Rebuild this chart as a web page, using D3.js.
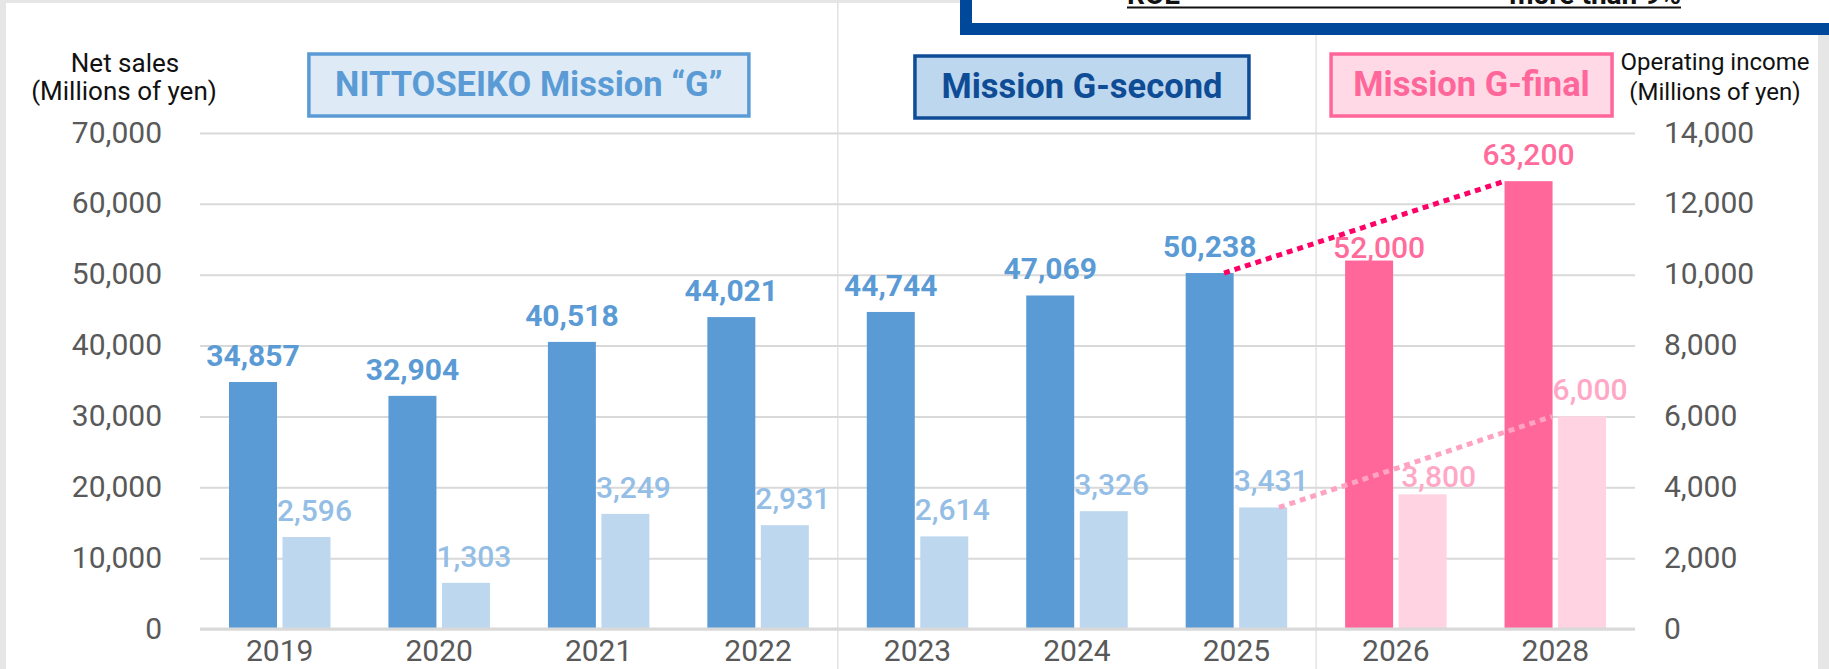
<!DOCTYPE html>
<html>
<head>
<meta charset="utf-8">
<script src="https://cdn.jsdelivr.net/npm/d3@7"></script>
<style>
  html, body { margin: 0; padding: 0; background: #fff; }
  svg { display: block; font-family: Roboto, "Noto Sans", "Liberation Sans", sans-serif; }
</style>
</head>
<body>
<svg id="chart" width="1829" height="669"></svg>
<script>
// ---- data -------------------------------------------------------------
const years = ["2019", "2020", "2021", "2022", "2023", "2024", "2025", "2026", "2028"];
const netSales = [34857, 32904, 40518, 44021, 44744, 47069, 50238, 52000, 63200];
const operatingIncome = [2596, 1303, 3249, 2931, 2614, 3326, 3431, 3800, 6000];
const planYears = ["2026", "2028"];
const salesTicks = [0, 10000, 20000, 30000, 40000, 50000, 60000, 70000];
const incomeTicks = [0, 2000, 4000, 6000, 8000, 10000, 12000, 14000];
const phaseNames = ["NITTOSEIKO Mission “G”", "Mission G-second", "Mission G-final"];
const phaseStart = ["2019", "2023", "2026"];
const phaseEnd = ["2022", "2025", "2028"];
const trendFrom = "2025";
const trendTo = "2028";

// ---- layout ------------------------------------------------------------
const W = 1829, H = 669;
const plotLeft = 200, plotRight = 1635, plotTop = 133, plotBottom = 629;

const svg = d3.select("#chart");

const x = d3.scaleBand().domain(years).range([plotLeft, plotRight]);
const xs = d3.scaleBand().domain(["sales", "income"]).range([29, 130.5]).paddingInner(0.103);
const yL = d3.scaleLinear().domain([0, 70000]).range([plotBottom, plotTop]);
const yR = d3.scaleLinear().domain([0, 14000]).range([plotBottom, plotTop]);
const bw = xs.bandwidth();
const fmt = d3.format(",");

const colors = {
  sales: "#5B9BD5", income: "#BDD7EE",
  salesPlan: "#FF6699", incomePlan: "#FFD3E1",
  salesLabel: "#5B9BD5", incomeLabel: "#94BEE5",
  salesPlanLabel: "#FF6C9C", incomePlanLabel: "#FFA8C6",
  grid: "#D9D9D9", tick: "#595959"
};
const isPlan = y => planYears.includes(y);

// page frame
svg.append("rect").attr("width", W).attr("height", H).attr("fill", "#E7E6E6");
svg.append("rect").attr("x", 6).attr("y", 3).attr("width", 1818 - 6).attr("height", H - 3).attr("fill", "#fff");

// phase dividers
[phaseStart[1], phaseStart[2]].forEach(p => {
  svg.append("line")
    .attr("x1", x(p)).attr("x2", x(p))
    .attr("y1", 0).attr("y2", H)
    .attr("stroke", "#E3E3E3").attr("stroke-width", 1.5);
});

// gridlines
svg.append("g")
  .attr("transform", `translate(${plotLeft},0)`)
  .call(d3.axisLeft(yL).tickValues(salesTicks).tickSize(-(plotRight - plotLeft)).tickFormat(""))
  .call(g => g.select(".domain").remove())
  .call(g => g.selectAll("line").attr("stroke", colors.grid).attr("stroke-width", 2));

// left axis labels
svg.append("g")
  .attr("transform", `translate(${plotLeft},0)`)
  .call(d3.axisLeft(yL).tickValues(salesTicks).tickSize(0).tickPadding(38).tickFormat(fmt))
  .call(g => g.select(".domain").remove())
  .call(g => g.selectAll("text")
    .attr("fill", colors.tick).attr("font-size", 30).attr("font-family", "Roboto, sans-serif").attr("dy", "0.30em"));

// right axis labels
svg.append("g")
  .attr("transform", `translate(${plotRight},0)`)
  .call(d3.axisRight(yR).tickValues(incomeTicks).tickSize(0).tickPadding(29).tickFormat(fmt))
  .call(g => g.select(".domain").remove())
  .call(g => g.selectAll("text")
    .attr("fill", colors.tick).attr("font-size", 30).attr("font-family", "Roboto, sans-serif").attr("dy", "0.30em"));

// year axis
svg.append("g")
  .attr("transform", `translate(0,${plotBottom})`)
  .call(d3.axisBottom(x).tickSize(0))
  .call(g => g.select(".domain").remove())
  .call(g => g.selectAll("text")
    .attr("y", 32).attr("dy", 0)
    .attr("fill", colors.tick).attr("font-size", 30).attr("font-family", "Roboto, sans-serif"));

// bars
const groups = svg.append("g").selectAll("g")
  .data(years)
  .join("g")
  .attr("transform", d => `translate(${x(d)},0)`);

groups.append("rect")
  .attr("x", xs("sales")).attr("width", bw)
  .attr("y", (d, i) => yL(netSales[i]))
  .attr("height", (d, i) => yL(0) - yL(netSales[i]))
  .attr("fill", d => isPlan(d) ? colors.salesPlan : colors.sales);

groups.append("rect")
  .attr("x", xs("income")).attr("width", bw)
  .attr("y", (d, i) => yR(operatingIncome[i]))
  .attr("height", (d, i) => yR(0) - yR(operatingIncome[i]))
  .attr("fill", d => isPlan(d) ? colors.incomePlan : colors.income);

// category axis baseline
svg.append("line")
  .attr("x1", plotLeft).attr("x2", plotRight)
  .attr("y1", yL(0)).attr("y2", yL(0))
  .attr("stroke", colors.grid).attr("stroke-width", 3);

// value labels (small nudges keep crowded labels readable)
const salesNudge = { "2026": [10, 13] };
const incomeNudge = { "2026": [8, 9] };

groups.append("text")
  .attr("x", d => xs("sales") + bw / 2 + (salesNudge[d] ? salesNudge[d][0] : 0))
  .attr("y", (d, i) => yL(netSales[i]) - 16 + (salesNudge[d] ? salesNudge[d][1] : 0))
  .attr("text-anchor", "middle")
  .attr("font-size", 30)
  .attr("font-weight", d => isPlan(d) ? 500 : 700)
  .attr("fill", d => isPlan(d) ? colors.salesPlanLabel : colors.salesLabel)
  .text((d, i) => fmt(netSales[i]));

groups.append("text")
  .attr("x", d => xs("income") + bw / 2 + 8 + (incomeNudge[d] ? incomeNudge[d][0] : 0))
  .attr("y", (d, i) => yR(operatingIncome[i]) - 16 + (incomeNudge[d] ? incomeNudge[d][1] : 0))
  .attr("text-anchor", "middle")
  .attr("font-size", 30)
  .attr("font-weight", 500)
  .attr("fill", d => isPlan(d) ? colors.incomePlanLabel : colors.incomeLabel)
  .text((d, i) => fmt(operatingIncome[i]));

// trend lines toward the final plan year
const iFrom = years.indexOf(trendFrom), iTo = years.indexOf(trendTo);
svg.append("line")
  .attr("x1", x(trendFrom) + xs("sales") + bw * 0.8).attr("y1", yL(netSales[iFrom]))
  .attr("x2", x(trendTo) + xs("sales")).attr("y2", yL(netSales[iTo]))
  .attr("stroke", "#FF0066").attr("stroke-width", 5).attr("stroke-dasharray", "6 5");
svg.append("line")
  .attr("x1", x(trendFrom) + xs("income") + bw * 0.83).attr("y1", yR(operatingIncome[iFrom]))
  .attr("x2", x(trendTo) + xs("income") - 6).attr("y2", yR(operatingIncome[iTo]))
  .attr("stroke", "#FFA3C2").attr("stroke-width", 5).attr("stroke-dasharray", "6 5");

// axis titles
const titleL = svg.append("g").attr("font-size", 26).attr("fill", "#111").attr("text-anchor", "middle");
titleL.append("text").attr("x", 125).attr("y", 72).text("Net sales");
titleL.append("text").attr("x", 124).attr("y", 100).text("(Millions of yen)");
const titleR = svg.append("g").attr("font-size", 24).attr("fill", "#111").attr("text-anchor", "middle");
titleR.append("text").attr("x", 1715).attr("y", 70).text("Operating income");
titleR.append("text").attr("x", 1715).attr("y", 100).text("(Millions of yen)");

// phase banners
const phaseStyle = [
  { stroke: "#5B9BD5", fill: "#DEEBF7", text: "#5B9BD5", w: 440, dx: 10, y: 54 },
  { stroke: "#0F4C96", fill: "#BDD7EE", text: "#0F4C96", w: 334, dx: 5, y: 56 },
  { stroke: "#FF6699", fill: "#FFD9E5", text: "#FF6699", w: 281, dx: -4, y: 54 }
];
phaseNames.forEach((name, k) => {
  const s = phaseStyle[k];
  const cx = (x(phaseStart[k]) + x(phaseEnd[k]) + x.bandwidth()) / 2 + s.dx;
  svg.append("rect")
    .attr("x", cx - s.w / 2).attr("y", s.y).attr("width", s.w).attr("height", 62)
    .attr("fill", s.fill).attr("stroke", s.stroke).attr("stroke-width", 3.5);
  svg.append("text")
    .attr("x", cx).attr("y", s.y + 42)
    .attr("text-anchor", "middle").attr("font-size", 34.5).attr("font-weight", 700)
    .attr("fill", s.text).text(name);
});

// target panel
svg.append("rect").attr("x", 960).attr("y", -10).attr("width", 900).attr("height", 45).attr("fill", "#00489A");
svg.append("rect").attr("x", 972).attr("y", -10).attr("width", 900).attr("height", 33).attr("fill", "#fff");
svg.append("text").attr("x", 1127).attr("y", 4).attr("font-size", 28).attr("font-weight", 700).attr("fill", "#111").text("ROE");
svg.append("text").attr("x", 1681).attr("y", 4).attr("text-anchor", "end").attr("font-size", 28).attr("font-weight", 700).attr("fill", "#111").text("more than 9%");
svg.append("line").attr("x1", 1127).attr("x2", 1681).attr("y1", 7.5).attr("y2", 7.5).attr("stroke", "#111").attr("stroke-width", 2);
</script>
</body>
</html>
